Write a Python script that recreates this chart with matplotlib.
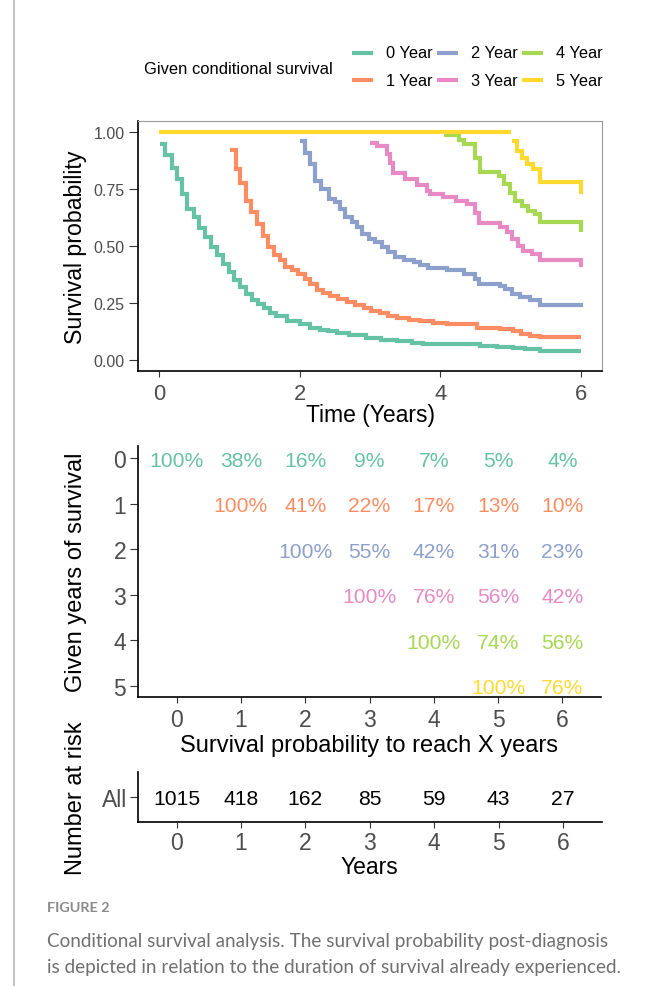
import numpy as np
import matplotlib
matplotlib.use("Agg")
import matplotlib.pyplot as plt
from matplotlib.lines import Line2D

plt.rcParams['font.family'] = ['Liberation Sans', 'DejaVu Sans']

# ---------------- data ----------------
group_labels = ["0 Year", "1 Year", "2 Year", "3 Year", "4 Year", "5 Year"]
group_colors = ["#66C2A5", "#FC8D62", "#8DA0CB", "#E78AC3", "#A6D854", "#FFD92F"]

t0 = [0.02, 0.085, 0.18, 0.25, 0.32, 0.39, 0.49, 0.57, 0.65, 0.74, 0.82, 0.91, 0.99,
      1.07, 1.15, 1.24, 1.32, 1.41, 1.49, 1.58, 1.67, 1.82, 2.0, 2.15, 2.29, 2.4,
      2.53, 2.7, 2.95, 3.15, 3.38, 3.6, 3.76, 4.57, 4.8, 5.04, 5.2, 5.42, 6.0]
s0 = [0.95, 0.90, 0.845, 0.793, 0.728, 0.662, 0.626, 0.578, 0.539, 0.495, 0.459, 0.422, 0.386,
      0.349, 0.32, 0.291, 0.262, 0.245, 0.226, 0.207, 0.19, 0.17, 0.156, 0.141, 0.131, 0.125,
      0.117, 0.108, 0.095, 0.088, 0.08, 0.074, 0.069, 0.06, 0.057, 0.05, 0.045, 0.04, 0.04]

t1 = [1.01, 1.095, 1.15, 1.24, 1.31, 1.39, 1.48, 1.55, 1.63, 1.72, 1.79, 1.89, 1.98, 2.08,
      2.15, 2.24, 2.33, 2.43, 2.55, 2.67, 2.79, 2.91, 3.02, 3.14, 3.26, 3.38, 3.55, 3.71,
      3.9, 4.09, 4.52, 4.85, 5.04, 5.15, 5.28, 5.42, 6.0]
s1 = [0.924, 0.84, 0.779, 0.699, 0.648, 0.597, 0.546, 0.495, 0.459, 0.437, 0.408, 0.393, 0.379, 0.357,
      0.335, 0.306, 0.295, 0.28, 0.266, 0.255, 0.24, 0.226, 0.215, 0.204, 0.193, 0.182, 0.175, 0.168,
      0.162, 0.156, 0.14, 0.134, 0.125, 0.115, 0.106, 0.098, 0.098]

t2 = [2.0, 2.08, 2.15, 2.22, 2.31, 2.41, 2.50, 2.57, 2.65, 2.74, 2.81, 2.88, 2.98, 3.07,
      3.17, 3.26, 3.36, 3.48, 3.62, 3.71, 3.83, 4.09, 4.33, 4.50, 4.55, 4.85, 4.92, 5.02,
      5.14, 5.28, 5.42, 6.0]
s2 = [0.96, 0.91, 0.859, 0.786, 0.75, 0.706, 0.692, 0.662, 0.626, 0.604, 0.583, 0.553, 0.531, 0.517,
      0.495, 0.473, 0.451, 0.44, 0.43, 0.415, 0.405, 0.393, 0.379, 0.357, 0.335, 0.325, 0.313, 0.291,
      0.277, 0.262, 0.24, 0.232]

t3 = [3.0, 3.10, 3.24, 3.28, 3.33, 3.50, 3.67, 3.81, 3.85, 4.04, 4.23, 4.38, 4.50, 4.55,
      4.85, 4.95, 5.02, 5.10, 5.18, 5.30, 5.42, 6.0]
s3 = [0.954, 0.939, 0.903, 0.866, 0.823, 0.793, 0.767, 0.742, 0.728, 0.716, 0.70, 0.687, 0.644, 0.60,
      0.583, 0.561, 0.531, 0.502, 0.48, 0.466, 0.437, 0.408]

t4 = [4.05, 4.26, 4.33, 4.50, 4.57, 4.83, 4.90, 4.99, 5.06, 5.16, 5.25, 5.35, 5.42, 6.0]
s4 = [0.988, 0.968, 0.949, 0.888, 0.827, 0.808, 0.772, 0.735, 0.699, 0.677, 0.655, 0.641, 0.604, 0.561]

t5_flat = [0.0, 5.0]
s5_flat = [1.0, 1.0]
t5 = [5.02, 5.09, 5.16, 5.23, 5.32, 5.42, 6.0]
s5 = [0.96, 0.917, 0.888, 0.862, 0.837, 0.783, 0.728]

curve_times = [t0, t1, t2, t3, t4, t5]
curve_surv = [s0, s1, s2, s3, s4, s5]

# conditional survival table (given years -> values from that year to year 6)
given_years = [0, 1, 2, 3, 4, 5]
cond_pct = [
    [100, 38, 16, 9, 7, 5, 4],
    [100, 41, 22, 17, 13, 10],
    [100, 55, 42, 31, 23],
    [100, 76, 56, 42],
    [100, 74, 56],
    [100, 76],
]
risk_years = [0, 1, 2, 3, 4, 5, 6]
risk_counts = [1015, 418, 162, 85, 59, 43, 27]

# ---------------- figure ----------------
W, H = 655, 987
fig = plt.figure(figsize=(W / 100, H / 100), dpi=100)

def fx(px):
    return px / W

def fy(py):
    return 1 - py / H

TICKC = "#333333"
LABC = "#4D4D4D"

# ---- top KM panel ----
ax1 = fig.add_axes([fx(138), fy(372), fx(464), 250 / H])
for i in range(6):
    if i == 5:
        ax1.plot(t5_flat, s5_flat, drawstyle="steps-post", color=group_colors[i],
                 lw=3, solid_capstyle="butt", solid_joinstyle="miter")
    ax1.plot(curve_times[i], curve_surv[i], drawstyle="steps-post", color=group_colors[i],
             lw=3, solid_capstyle="butt", solid_joinstyle="miter")
ax1.set_xlim(-0.3, 6.3)
ax1.set_ylim(-0.05, 1.05)
ax1.set_xticks([0, 2, 4, 6])
ax1.set_yticks([0, 0.25, 0.5, 0.75, 1.0])
ax1.set_yticklabels(["0.00", "0.25", "0.50", "0.75", "1.00"])
for s in ["left", "bottom"]:
    ax1.spines[s].set_color("black")
    ax1.spines[s].set_linewidth(1.2)
for s in ["top", "right"]:
    ax1.spines[s].set_color("#9a9a9a")
    ax1.spines[s].set_linewidth(0.8)
ax1.tick_params(axis="x", length=4, width=0.8, color=TICKC, labelcolor=LABC, labelsize=15.8, pad=4.5)
ax1.tick_params(axis="y", length=6.5, width=0.8, color=TICKC, labelcolor=LABC, labelsize=11.5, pad=3)
ax1.set_xlabel("Time (Years)", fontsize=16.5, color="black")
ax1.xaxis.set_label_coords(0.5, -(404 - 372) / 250)
ax1.set_ylabel("Survival probability", fontsize=16.7, color="black")
ax1.yaxis.set_label_coords(-(138 - 87) / 464, 0.5)

# ---- legend (manual, ggplot style) ----
fig.text(fx(144), fy(69.5), "Given conditional survival", fontsize=11.9, va="center", ha="left")
col_x = [352, 437, 522]
row_y = [54, 81]
for i, lab in enumerate(group_labels):
    c, r = divmod(i, 2)
    x0 = col_x[c]
    y0 = row_y[r]
    fig.add_artist(Line2D([fx(x0), fx(x0 + 21)], [fy(y0), fy(y0)], color=group_colors[i],
                          lw=3, solid_capstyle="butt", transform=fig.transFigure))
    fig.text(fx(x0 + 34), fy(y0), lab, fontsize=11.8, va="center", ha="left")

# ---- middle conditional table ----
ax2 = fig.add_axes([fx(138), fy(698.3), fx(463), 251.6 / H])
for i, row in enumerate(cond_pct):
    start = given_years[i]
    for j, v in enumerate(row):
        ax2.text(start + j, i, f"{v}%", ha="center", va="center_baseline",
                 color=group_colors[i], fontsize=15.2)
ax2.set_xlim(-0.6, 6.6)
ax2.set_ylim(5.25, -0.27)
ax2.set_xticks(risk_years)
ax2.set_yticks(given_years)
for s in ["top", "right"]:
    ax2.spines[s].set_visible(False)
for s in ["left", "bottom"]:
    ax2.spines[s].set_color("black")
    ax2.spines[s].set_linewidth(1.2)
ax2.tick_params(axis="x", length=4, width=0.8, color=TICKC, labelcolor=LABC, labelsize=16.5, pad=3.5)
ax2.tick_params(axis="y", length=6, width=0.8, color=TICKC, labelcolor=LABC, labelsize=16.5, pad=2.5)
ax2.set_xlabel("Survival probability to reach X years", fontsize=17)
ax2.xaxis.set_label_coords(0.5, -(735 - 698.3) / 251.6)
ax2.set_ylabel("Given years of survival", fontsize=17)
ax2.yaxis.set_label_coords(-(138 - 87) / 463, 0.5)

# ---- bottom risk table ----
ax3 = fig.add_axes([fx(138), fy(822.7), fx(463.5), 49.4 / H])
for x, n in zip(risk_years, risk_counts):
    ax3.text(x, 1, str(n), ha="center", va="center_baseline", color="black", fontsize=15.2)
ax3.set_xlim(-0.6, 6.6)
ax3.set_ylim(0.5, 1.5)
ax3.set_xticks(risk_years)
ax3.set_yticks([1])
ax3.set_yticklabels(["All"])
for s in ["top", "right"]:
    ax3.spines[s].set_visible(False)
for s in ["left", "bottom"]:
    ax3.spines[s].set_color("black")
    ax3.spines[s].set_linewidth(1.2)
ax3.tick_params(axis="x", length=4, width=0.8, color=TICKC, labelcolor=LABC, labelsize=16.5, pad=3)
ax3.tick_params(axis="y", length=6, width=0.8, color=TICKC, labelcolor=LABC, labelsize=16.5, pad=2)
ax3.set_xlabel("Years", fontsize=16.5)
ax3.xaxis.set_label_coords(0.5, -(856 - 822.7) / 49.4)
ax3.set_ylabel("Number at risk", fontsize=17)
ax3.yaxis.set_label_coords(-(138 - 87) / 463.5, 0.5)

# ---- page decorations / caption ----
fig.add_artist(Line2D([fx(13.5), fx(13.5)], [0, 1], color="#c4c4c4", lw=1.5,
                      transform=fig.transFigure))
fig.text(fx(47), fy(908), "FIGURE 2", fontsize=10.4, fontweight="bold", color="#8a8a8a",
         va="center", ha="left", family=["Lato", "DejaVu Sans"])
fig.text(fx(47), fy(942), "Conditional survival analysis. The survival probability post-diagnosis",
         fontsize=13.6, color="#707070", va="center", ha="left", family=["Lato", "DejaVu Sans"])
fig.text(fx(47), fy(968), "is depicted in relation to the duration of survival already experienced.",
         fontsize=13.6, color="#707070", va="center", ha="left", family=["Lato", "DejaVu Sans"])

fig.savefig("out.png", dpi=100)
